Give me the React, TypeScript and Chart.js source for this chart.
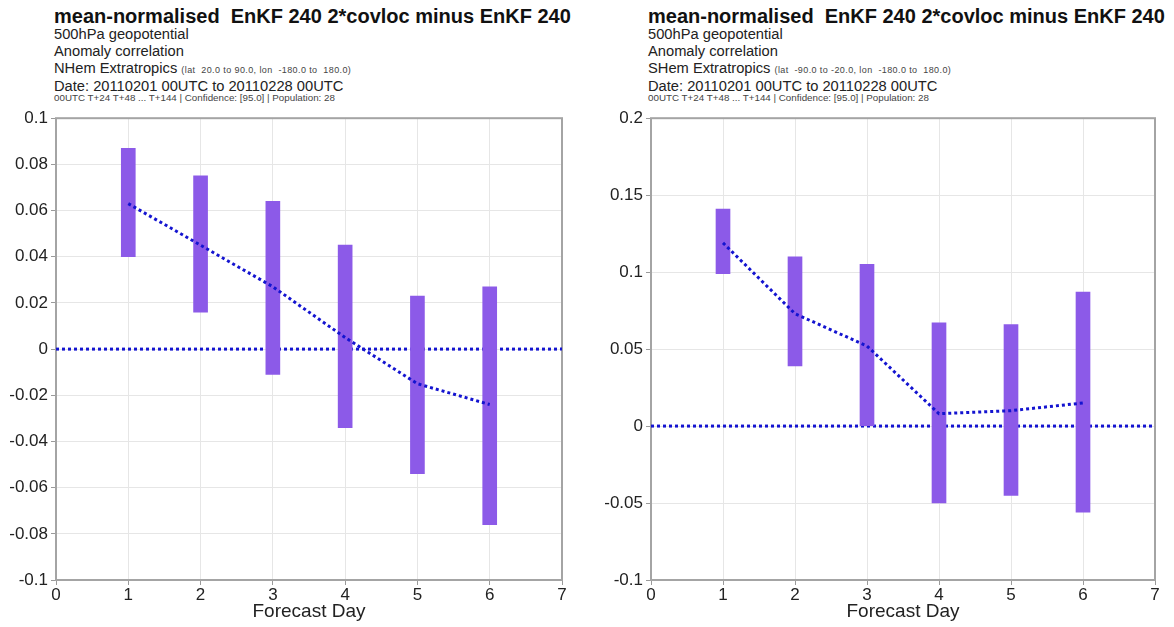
import React, { useEffect, useRef } from "react";
import { Chart, registerables } from "chart.js";

Chart.register(...registerables);

// ---- data ----
const days = [1, 2, 3, 4, 5, 6];
const xTicks = [0, 1, 2, 3, 4, 5, 6, 7];
const zeroLineX = [0, 7];

const nhemMean = [0.063, 0.045, 0.027, 0.005, -0.015, -0.024];
const nhemLow = [0.04, 0.016, -0.011, -0.034, -0.054, -0.076];
const nhemHigh = [0.087, 0.075, 0.064, 0.045, 0.023, 0.027];
const nhemYTicks = [-0.1, -0.08, -0.06, -0.04, -0.02, 0, 0.02, 0.04, 0.06, 0.08, 0.1];

const shemMean = [0.119, 0.073, 0.052, 0.008, 0.01, 0.015];
const shemLow = [0.099, 0.039, 0.0, -0.05, -0.045, -0.056];
const shemHigh = [0.141, 0.11, 0.105, 0.067, 0.066, 0.087];
const shemYTicks = [-0.1, -0.05, 0, 0.05, 0.1, 0.15, 0.2];

const titleText = "mean-normalised  EnKF 240 2*covloc minus EnKF 240";
const paramText = "500hPa geopotential";
const scoreText = "Anomaly correlation";
const nhemRegion = "NHem Extratropics";
const nhemArea = "(lat  20.0 to 90.0, lon  -180.0 to  180.0)";
const shemRegion = "SHem Extratropics";
const shemArea = "(lat  -90.0 to -20.0, lon  -180.0 to  180.0)";
const dateText = "Date: 20110201 00UTC to 20110228 00UTC";
const infoText = "00UTC T+24 T+48 ... T+144 | Confidence: [95.0] | Population: 28";
const xTitle = "Forecast Day";

const FONT = "'Liberation Sans', Arial, Helvetica, sans-serif";
const BAR_COLOR = "#8c5ae8";
const LINE_COLOR = "#1414d0";

const framePlugin = {
  id: "frame",
  beforeDatasetsDraw(chart: any) {
    const { ctx, chartArea } = chart;
    const { left, top, right, bottom } = chartArea;
    ctx.save();
    ctx.strokeStyle = "#a4a4a4";
    ctx.lineWidth = 2;
    ctx.strokeRect(left, top, right - left, bottom - top);
    ctx.restore();
  },
};

const fmt = (v: number) => String(+Number(v).toFixed(2));

function ChartPanel(props: {
  mean: number[];
  low: number[];
  high: number[];
  yTicks: number[];
  width: number;
  height: number;
  yAxisWidth: number;
  padRight: number;
}) {
  const ref = useRef<HTMLCanvasElement>(null);
  useEffect(() => {
    const { mean, low, high, yTicks, yAxisWidth, padRight } = props;
    const chart = new Chart(ref.current as HTMLCanvasElement, {
      type: "line",
      data: {
        datasets: [
          {
            type: "line",
            data: days.map((d, i) => ({ x: d, y: mean[i] })),
            borderColor: LINE_COLOR,
            borderWidth: 3,
            borderDash: [3, 3],
            pointRadius: 0,
            fill: false,
            order: 1,
          } as any,
          {
            type: "bar",
            data: days.map((d, i) => ({ x: d, y: [low[i], high[i]] })),
            backgroundColor: BAR_COLOR,
            borderWidth: 0,
            barThickness: 14,
            grouped: false,
            order: 2,
          } as any,
          {
            type: "line",
            data: zeroLineX.map((x) => ({ x, y: 0 })),
            borderColor: LINE_COLOR,
            borderWidth: 3,
            borderDash: [3, 3],
            pointRadius: 0,
            fill: false,
            order: 3,
          } as any,
        ],
      },
      options: {
        animation: false,
        responsive: false,
        maintainAspectRatio: false,
        devicePixelRatio: 1,
        layout: { padding: { top: 12, right: padRight, bottom: 0, left: 0 } },
        plugins: {
          legend: { display: false },
          tooltip: { enabled: false },
        },
        scales: {
          x: {
            type: "linear",
            min: 0,
            max: 7,
            offset: false,
            afterBuildTicks: (s: any) => {
              s.ticks = xTicks.map((v) => ({ value: v }));
            },
            afterFit: (s: any) => {
              s.height = 47;
            },
            grid: {
              color: "#e6e6e6",
              lineWidth: 1,
              tickColor: "#9a9a9a",
              tickLength: 5,
              offset: false,
            },
            border: { display: false },
            ticks: {
              color: "#222",
              font: { size: 17, family: FONT },
              padding: 0,
              maxRotation: 0,
              autoSkip: false,
              callback: (v: any) => fmt(v),
            },
            title: {
              display: true,
              text: xTitle,
              color: "#222",
              font: { size: 19, family: FONT },
              padding: { top: 0, bottom: 4 },
            },
          },
          y: {
            type: "linear",
            min: yTicks[0],
            max: yTicks[yTicks.length - 1],
            afterBuildTicks: (s: any) => {
              s.ticks = yTicks.map((v) => ({ value: v }));
            },
            afterFit: (s: any) => {
              s.width = yAxisWidth;
            },
            grid: {
              color: "#e6e6e6",
              lineWidth: 1,
              tickColor: "#9a9a9a",
              tickLength: 5,
            },
            border: { display: false },
            ticks: {
              color: "#222",
              font: { size: 17, family: FONT },
              padding: 3,
              autoSkip: false,
              callback: (v: any) => fmt(v),
            },
          },
        },
      } as any,
      plugins: [framePlugin],
    });
    return () => chart.destroy();
  }, []);
  return <canvas ref={ref} width={props.width} height={props.height} style={{ display: "block", width: props.width, height: props.height }} />;
}

function Header(props: { left: number; region: string; area: string }) {
  const base: React.CSSProperties = {
    position: "absolute",
    left: props.left,
    lineHeight: 1,
    whiteSpace: "pre",
    fontFamily: FONT,
    color: "#222",
  };
  return (
    <>
      <div style={{ ...base, top: 5.6, fontSize: 20, fontWeight: "bold", color: "#111" }}>{titleText}</div>
      <div style={{ ...base, top: 26.5, fontSize: 14.7 }}>{paramText}</div>
      <div style={{ ...base, top: 43.5, fontSize: 14.7 }}>{scoreText}</div>
      <div style={{ ...base, top: 60.5, fontSize: 14.7 }}>
        {props.region}{" "}
        <span style={{ fontSize: 9, letterSpacing: 0.4, color: "#444" }}>{props.area}</span>
      </div>
      <div style={{ ...base, top: 78.5, fontSize: 14.7 }}>{dateText}</div>
      <div style={{ ...base, top: 93.2, fontSize: 9.8, color: "#444" }}>{infoText}</div>
    </>
  );
}

export default function App() {
  return (
    <div
      style={{
        position: "fixed",
        left: 0,
        top: 0,
        width: 1174,
        height: 627,
        background: "#fff",
        overflow: "hidden",
      }}
    >
      <Header left={54} region={nhemRegion} area={nhemArea} />
      <Header left={648} region={shemRegion} area={shemArea} />
      <div style={{ position: "absolute", left: 0, top: 105 }}>
        <ChartPanel mean={nhemMean} low={nhemLow} high={nhemHigh} yTicks={nhemYTicks} width={590} height={522} yAxisWidth={56} padRight={28} />
      </div>
      <div style={{ position: "absolute", left: 590, top: 105 }}>
        <ChartPanel mean={shemMean} low={shemLow} high={shemHigh} yTicks={shemYTicks} width={584} height={522} yAxisWidth={61} padRight={19} />
      </div>
    </div>
  );
}
